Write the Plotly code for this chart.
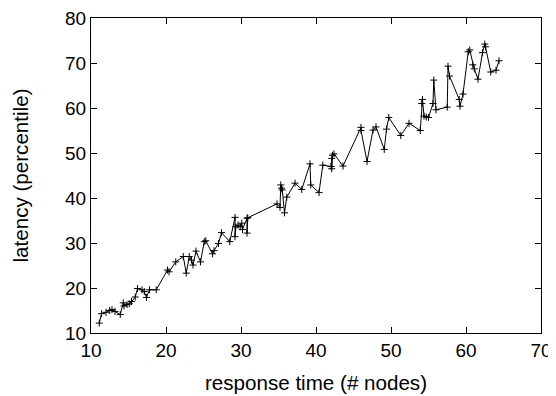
import plotly.graph_objects as go

x_vals = [11.1, 11.4, 12.0, 12.5, 12.8, 13.2, 13.9, 14.3, 14.4, 14.8, 15.1, 15.4, 15.9, 16.2, 16.8,
          17.1, 17.4, 17.8, 18.7, 20.2, 20.4, 21.3, 22.3, 22.7, 23.1, 23.4, 23.6, 24.0, 24.6, 25.1,
          25.3, 26.2, 26.4, 27.0, 27.4, 28.5, 29.2, 29.2, 29.3, 29.6, 29.9, 30.1, 30.2, 30.8, 30.8,
          30.9, 34.8, 35.2, 35.3, 35.4, 35.5, 35.8, 36.1, 37.2, 38.1, 39.2, 39.3, 40.4, 40.9, 42.0,
          42.1, 42.1, 42.2, 42.4, 43.6, 46.0, 46.0, 46.8, 47.6, 48.0, 49.1, 49.4, 49.7, 51.3, 52.4,
          53.9, 54.1, 54.2, 54.4, 54.7, 55.0, 55.6, 55.7, 56.0, 57.5, 57.6, 57.8, 59.1, 59.2, 59.6,
          60.3, 60.5, 60.9, 61.1, 61.6, 62.2, 62.5, 62.6, 63.3, 64.0, 64.4]
y_vals = [12.2, 14.3, 14.6, 15.0, 15.2, 14.8, 14.1, 16.7, 16.0, 16.3, 16.5, 17.0, 18.0, 19.9, 19.6,
          19.2, 17.9, 19.6, 19.6, 24.0, 23.6, 25.8, 27.0, 23.3, 27.0, 26.2, 25.1, 28.2, 25.8, 30.3,
          30.5, 27.6, 28.3, 29.9, 32.3, 30.3, 35.7, 31.4, 33.6, 34.0, 33.6, 34.4, 33.0, 35.5, 32.2,
          35.6, 38.7, 37.9, 42.9, 42.2, 41.8, 36.7, 40.2, 43.3, 41.9, 47.6, 42.9, 41.2, 47.3, 47.0,
          48.8, 46.5, 49.5, 49.8, 47.1, 55.7, 55.0, 48.1, 55.1, 55.8, 50.8, 55.3, 57.9, 53.9, 56.6,
          55.0, 61.0, 61.9, 58.2, 58.0, 57.9, 61.0, 66.2, 59.6, 60.2, 69.3, 67.1, 61.9, 60.4, 63.1,
          72.5, 72.9, 69.6, 68.7, 66.4, 72.3, 74.2, 73.6, 68.0, 68.4, 70.5]

x_ticks = [10, 20, 30, 40, 50, 60, 70]
y_ticks = [10, 20, 30, 40, 50, 60, 70, 80]

fig = go.Figure()
fig.add_trace(go.Scatter(
    x=x_vals, y=y_vals, mode="lines+markers",
    line=dict(color="black", width=1),
    marker=dict(symbol="cross-thin", size=5, color="black",
                line=dict(color="black", width=1)),
    showlegend=False,
))

tick_font = dict(family="Liberation Sans, Arial, sans-serif", size=19, color="black")
title_font = dict(family="Liberation Sans, Arial, sans-serif", size=20.6, color="black")
axis_common = dict(showline=True, linecolor="black", linewidth=1, mirror="allticks",
                   ticks="inside", ticklen=6, tickcolor="black", tickwidth=1,
                   showgrid=False, zeroline=False, tickfont=tick_font, automargin=False,
                   ticklabeloverflow="allow")

fig.update_layout(
    width=548, height=388,
    margin=dict(l=83, r=15, t=10, b=63),
    paper_bgcolor="white", plot_bgcolor="white",
    font=tick_font,
    xaxis=dict(range=[10, 70], tickvals=x_ticks,
               title=dict(text="response time (# nodes)", font=title_font, standoff=15),
               **axis_common),
    yaxis=dict(range=[10, 80], tickvals=y_ticks,
               title=dict(text="latency (percentile)", font=title_font, standoff=30),
               **axis_common),
)
fig.write_html("out.html")
